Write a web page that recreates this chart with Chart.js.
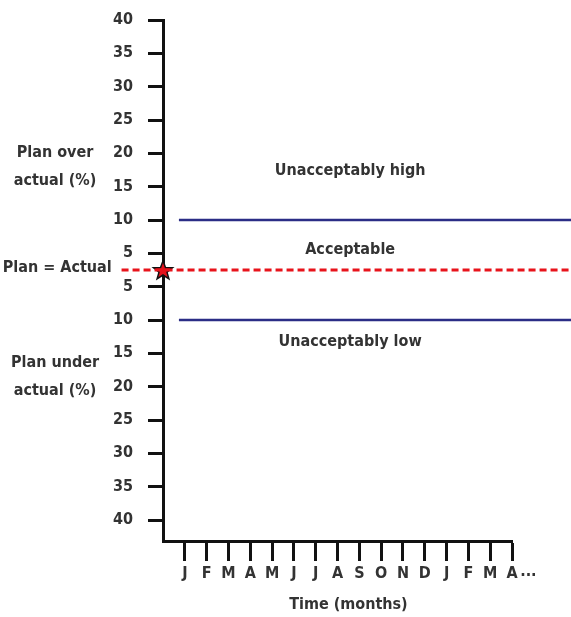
<!DOCTYPE html>
<html>
<head>
<meta charset="utf-8">
<script src="https://cdn.jsdelivr.net/npm/chart.js@4"></script>
<style>
  body { margin: 0; background: #fff; }
  canvas { display: block; }
</style>
</head>
<body>
<canvas id="planChart" width="571" height="617"></canvas>
<script>
// month ticks along the bottom (1..16)
var months = ['J', 'F', 'M', 'A', 'M', 'J', 'J', 'A', 'S', 'O', 'N', 'D', 'J', 'F', 'M', 'A'];
// y tick labels, bottom to top (position 0..15)
var yTickLabels = ['40', '35', '30', '25', '20', '15', '10', '5', '5', '10', '15', '20', '25', '30', '35', '40'];
// where the lines sit on the y positions
var planEqualsActual = 7.5;
var upperLimit = 9;   // the upper "10"
var lowerLimit = 6;   // the lower "10"
// how far the lines run along x
var refLineStart = -1.9;
var bandStart = 0.73;
var lineEnd = 18.8;

var FONT = "'Liberation Sans Narrow', 'DejaVu Sans Condensed', 'Roboto Condensed', sans-serif";
var TEXT = '#333';

function makeStar(){
    var c = document.createElement('canvas');
    c.width = 24; c.height = 24;
    var g = c.getContext('2d');
    g.beginPath();
    for (var i = 0; i < 10; i++) {
        var r = (i % 2 === 0) ? 10 : 4.2;
        var a = -Math.PI / 2 + i * Math.PI / 5;
        g.lineTo(12 + r * Math.cos(a), 12.8 + r * Math.sin(a));
    }
    g.closePath();
    g.fillStyle = '#e3121b';
    g.fill();
    g.lineWidth = 1.5;
    g.strokeStyle = '#111';
    g.stroke();
    return c;
}

// text placed in data coordinates
var notes = [
    { lines: ['Plan over', 'actual (%)'], x: -4.95, y: 10.59 },
    { lines: ['Plan = Actual'], x: -4.85, y: 7.56 },
    { lines: ['Plan under', 'actual (%)'], x: -4.95, y: 4.3 },
    { lines: ['Unacceptably high'], x: 8.58, y: 10.47 },
    { lines: ['Acceptable'], x: 8.58, y: 8.1 },
    { lines: ['Unacceptably low'], x: 8.58, y: 5.34 },
    { lines: ['...'], x: 16.75, y: -1.55 },
    { lines: ['Time (months)'], x: 8.5, y: -2.55 }
];

var notesPlugin = {
    id: 'notes',
    afterDraw: function(chart){
        var ctx = chart.ctx;
        var xs = chart.scales.x, ys = chart.scales.y;
        ctx.save();
        ctx.fillStyle = TEXT;
        ctx.font = 'bold 16px ' + FONT;
        ctx.textAlign = 'center';
        ctx.textBaseline = 'middle';
        notes.forEach(function(n){
            var px = xs.getPixelForValue(n.x);
            var py = ys.getPixelForValue(n.y);
            var top = py - (n.lines.length - 1) * 14;
            n.lines.forEach(function(t, i){
                ctx.fillText(t, px, top + i * 28);
            });
        });
        ctx.restore();
    }
};

var ctxEl = document.getElementById('planChart');
new Chart(ctxEl, {
    type: 'scatter',
    data: {
        datasets: [{
            data: [{ x: refLineStart, y: planEqualsActual }, { x: lineEnd, y: planEqualsActual }],
            showLine: true,
            borderColor: '#e8131b',
            borderWidth: 3,
            borderDash: [7, 4],
            pointRadius: 0,
            clip: false
        }, {
            data: [{ x: bandStart, y: upperLimit }, { x: lineEnd, y: upperLimit }],
            showLine: true,
            borderColor: '#2b2d86',
            borderWidth: 2.5,
            pointRadius: 0,
            clip: false
        }, {
            data: [{ x: bandStart, y: lowerLimit }, { x: lineEnd, y: lowerLimit }],
            showLine: true,
            borderColor: '#2b2d86',
            borderWidth: 2.5,
            pointRadius: 0,
            clip: false
        }, {
            data: [{ x: 0, y: planEqualsActual }],
            pointStyle: makeStar(),
            clip: false
        }]
    },
    options: {
        responsive: false,
        animation: false,
        layout: { padding: { top: 20, right: 59, bottom: 0, left: 0 } },
        plugins: { legend: { display: false }, tooltip: { enabled: false } },
        scales: {
            x: {
                type: 'linear',
                min: 0,
                max: months.length,
                afterBuildTicks: function(scale){
                    scale.ticks = months.map(function(m, i){ return { value: i + 1 }; });
                },
                afterFit: function(scale){ scale.height = 76; },
                border: { display: true, color: '#111', width: 3 },
                grid: { drawOnChartArea: false, drawTicks: true, tickLength: 20, tickWidth: 3, tickColor: '#111' },
                ticks: {
                    autoSkip: false,
                    maxRotation: 0,
                    padding: 3,
                    color: TEXT,
                    font: { family: FONT, size: 16, weight: 'bold' },
                    callback: function(v, i){ return months[i]; }
                }
            },
            y: {
                type: 'linear',
                min: -0.63,
                max: 15,
                afterBuildTicks: function(scale){
                    scale.ticks = yTickLabels.map(function(l, i){ return { value: i }; });
                },
                afterFit: function(scale){
                    scale.width = 163;
                    // tick padding is only meant to be horizontal here
                    scale.paddingTop = 10;
                    scale.paddingBottom = 10;
                },
                border: { display: true, color: '#111', width: 3 },
                grid: { drawOnChartArea: false, drawTicks: true, tickLength: 15, tickWidth: 3, tickColor: '#111' },
                ticks: {
                    autoSkip: false,
                    padding: 15,
                    color: TEXT,
                    font: { family: FONT, size: 16, weight: 'bold' },
                    callback: function(v, i){ return yTickLabels[i]; }
                }
            }
        }
    },
    plugins: [notesPlugin]
});
</script>
</body>
</html>
